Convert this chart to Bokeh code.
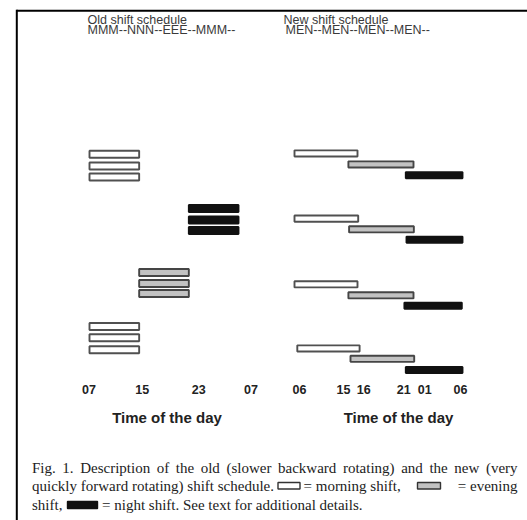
from bokeh.plotting import figure
from bokeh.models import Range1d, ColumnDataSource
from bokeh.core.properties import value
from bokeh.embed import file_html
from bokeh.resources import INLINE

# ---------------- data ----------------
# Old schedule: MMM--NNN--EEE--MMM--  (hours of day, 31 = 07 next day)
old_shift = ["M", "M", "M", "N", "N", "N", "E", "E", "E", "M", "M", "M"]
old_start = [7, 7, 7, 23, 23, 23, 15, 15, 15, 7, 7, 7]
old_end = [15, 15, 15, 31, 31, 31, 23, 23, 23, 15, 15, 15]
old_row = [0.0, 1.06, 2.06, 4.93, 5.97, 6.93, 10.75, 11.75, 12.65, 15.65, 16.68, 17.77]

# New schedule: MEN--MEN--MEN--MEN--  (schematic hours, 30 = 06 next day)
new_shift = ["M", "E", "N"] * 4
new_start = [6.0, 13.7, 21.9, 6.0, 13.8, 22.0, 6.0, 13.7, 21.7, 6.4, 14.0, 21.9]
new_end = [15.0, 23.0, 30.0, 15.1, 23.05, 30.0, 15.0, 23.0, 29.9, 15.3, 23.1, 30.0]
new_row = [-0.08, 0.92, 1.9, 5.85, 6.82, 7.76, 11.82, 12.82, 13.76, 17.65, 18.59, 19.61]

old_tick_pos = [6.9, 15.5, 24.6, 33.0]
old_tick_labels = ["07", "15", "23", "07"]
new_tick_pos = [6.7, 13.0, 15.9, 21.6, 24.6, 29.7]
new_tick_labels = ["06", "15", "16", "21", "01", "06"]

fill_map = {"M": "#ffffff", "E": "#c2c2c2", "N": "#111111"}
line_map = {"M": "#505050", "E": "#454545", "N": "#111111"}

# ---------------- layout helpers (page pixel -> data) ----------------
W, H = 527, 520
LEFT, TOP = 0, 0


def ox(px):
    return 7 + (px - 89) * (24 / 149)


def nx(px):
    return 6 + (px - 294) / 7


def oy(py):
    return (py - 153.8) / 11


p = figure(width=W, height=H, output_backend="svg", toolbar_location=None,
           x_range=Range1d(ox(LEFT), ox(LEFT + W)),
           y_range=Range1d(oy(TOP + H), oy(TOP)),
           x_axis_type=None, y_axis_type=None, min_border=0)
p.extra_x_ranges = {"new": Range1d(nx(LEFT), nx(LEFT + W))}
p.outline_line_color = None
p.grid.visible = False
p.background_fill_color = "white"

# border (top and left)
p.segment(x0=[ox(16), ox(16.3)], y0=[oy(10.3), oy(9.3)],
          x1=[ox(527), ox(16.3)], y1=[oy(10.3), oy(521)],
          line_color="black", line_width=2)

# bars
old_src = ColumnDataSource(dict(
    y=old_row, left=old_start, right=old_end,
    fill=[fill_map[s] for s in old_shift], line=[line_map[s] for s in old_shift]))
p.hbar(y="y", left="left", right="right", height=0.64, source=old_src,
       fill_color="fill", line_color="line", line_width=1.9)

new_src = ColumnDataSource(dict(
    y=new_row, left=new_start, right=new_end,
    fill=[fill_map[s] for s in new_shift], line=[line_map[s] for s in new_shift]))
p.hbar(y="y", left="left", right="right", height=0.56, source=new_src,
       fill_color="fill", line_color="line", line_width=1.9, x_range_name="new")

sans = value("Liberation Sans")
serif = value("Liberation Serif")

# tick labels
p.text(x=old_tick_pos, y=[oy(389)] * len(old_tick_pos), text=old_tick_labels,
       text_font=sans, text_font_size="12.5px", text_font_style="bold",
       text_align="center", text_baseline="middle", text_color="#222222")
p.text(x=new_tick_pos, y=[oy(389)] * len(new_tick_pos), text=new_tick_labels,
       text_font=sans, text_font_size="12.5px", text_font_style="bold",
       text_align="center", text_baseline="middle", text_color="#222222",
       x_range_name="new")

# axis titles
p.text(x=[ox(166.5)], y=[oy(416.5)], text=["Time of the day"], text_font=sans,
       text_font_size="15px", text_font_style="bold", text_align="center",
       text_baseline="middle", text_color="#222222")
p.text(x=[nx(398)], y=[oy(416.5)], text=["Time of the day"], text_font=sans,
       text_font_size="15px", text_font_style="bold", text_align="center",
       text_baseline="middle", text_color="#222222", x_range_name="new")

# panel headings
p.text(x=[ox(87), ox(87)], y=[oy(19.3), oy(29.3)],
       text=["Old shift schedule", "MMM--NNN--EEE--MMM--"], text_font=sans,
       text_font_size="12.5px", text_align="left", text_baseline="alphabetic",
       text_color="#3a3a3a")
p.text(x=[ox(283), ox(285)], y=[oy(19.3), oy(29.3)],
       text=["New shift schedule", "MEN--MEN--MEN--MEN--"], text_font=sans,
       text_font_size="12.5px", text_align="left", text_baseline="alphabetic",
       text_color="#3a3a3a")

# caption (first line justified word by word)
cap_kw = dict(text_font=serif, text_font_size="15px", text_baseline="middle",
              text_color="#222222")
line1_words = ["Fig.", "1.", "Description", "of", "the", "old", "(slower",
               "backward", "rotating)", "and", "the", "new", "(very"]
line1_x = [31.5, 61.8, 79.7, 156.2, 175.3, 200.2, 226.0, 277.5, 342.4,
           400.7, 428.9, 453.8, 485.4]
p.text(x=[ox(v) for v in line1_x], y=[oy(467)] * len(line1_words),
       text=line1_words, text_align="left", **cap_kw)
p.text(x=[ox(31.5), ox(303)], y=[oy(485.5)] * 2,
       text=["quickly forward rotating) shift schedule.", "= morning shift,"],
       text_align="left", **cap_kw)
p.text(x=[ox(517)], y=[oy(485.5)], text=["= evening"], text_align="right", **cap_kw)
p.text(x=[ox(31.5), ox(101.5)], y=[oy(504.5)] * 2,
       text=["shift,", "= night shift. See text for additional details."],
       text_align="left", **cap_kw)

# caption legend keys
p.quad(left=[ox(277.5), ox(417), ox(67)], right=[ox(299.5), ox(440), ox(97)],
       top=[oy(482), oy(482), oy(501)], bottom=[oy(488.5), oy(488.5), oy(508)],
       fill_color=["#ffffff", "#c2c2c2", "#111111"],
       line_color=["#333333", "#333333", "#111111"], line_width=1.4)

open("out.html", "w").write(file_html(p, INLINE))
